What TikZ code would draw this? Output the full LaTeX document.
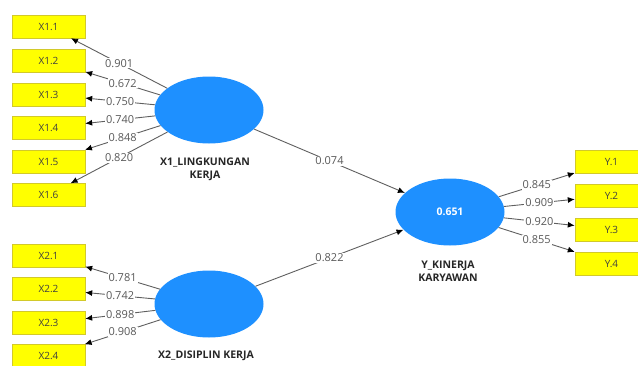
\documentclass[tikz,border=0pt]{standalone}
\usepackage{fontspec}
\setmainfont{Open Sans}
\usepackage{tikz}
\usetikzlibrary{shapes.geometric,arrows.meta}
\definecolor{lvblue}{RGB}{30,144,255}
\definecolor{mvyellow}{RGB}{255,255,0}
\definecolor{linegray}{RGB}{95,95,95}

\tikzset{
  latent/.style={ellipse, fill=lvblue, minimum width=109pt, minimum height=67pt, inner sep=0pt},
  indicator/.style={rectangle, fill=mvyellow, draw=yellow!80!black, line width=0.4pt, minimum width=73pt, minimum height=23pt, inner sep=0pt, font=\fontsize{10}{10}\selectfont, text=black!75},
  coef/.style={fill=white, inner sep=1pt, font=\fontsize{11}{11}\selectfont, text=black!65},
  lvtitle/.style={font=\fontsize{10.5}{13.5}\selectfont\bfseries, align=center, text=black!85},
  loadline/.style={draw=linegray, line width=0.9pt, -{Latex[length=7pt,width=6pt,color=black]}}
}

\begin{document}
\begin{tikzpicture}[x=1pt,y=1pt]
\useasboundingbox (0,0) rectangle (638,-365);
% constructs
\node[latent] (X1) at (209,-110) {};
\node[latent] (X2) at (209,-304) {};
\node[latent, text=white, font=\fontsize{10.5}{11}\selectfont\bfseries] (Y) at (450,-212) {0.651};
\node[lvtitle] (X1t) at (205,-169.5) {X1\_LINGKUNGAN\\KERJA};
\node[lvtitle] (X2t) at (206,-356) {X2\_DISIPLIN KERJA};
\node[lvtitle] (Yt) at (448,-271) {Y\_KINERJA\\KARYAWAN};
% indicators X1
\node[indicator] (X11) at (48.5,-26.5) {X1.1};
\node[indicator] (X12) at (48.5,-60.5) {X1.2};
\node[indicator] (X13) at (48.5,-94.5) {X1.3};
\node[indicator] (X14) at (48.5,-127.5) {X1.4};
\node[indicator] (X15) at (48.5,-161.5) {X1.5};
\node[indicator] (X16) at (48.5,-195) {X1.6};
% indicators X2
\node[indicator] (X21) at (48.5,-255.5) {X2.1};
\node[indicator] (X22) at (48.5,-289) {X2.2};
\node[indicator] (X23) at (48.5,-323) {X2.3};
\node[indicator] (X24) at (48.5,-356) {X2.4};
% indicators Y
\node[indicator] (Y1) at (611.5,-161.5) {Y.1};
\node[indicator] (Y2) at (611.5,-195.5) {Y.2};
\node[indicator] (Y3) at (611.5,-229.5) {Y.3};
\node[indicator] (Y4) at (611.5,-263.5) {Y.4};
% outer loadings
\draw[loadline] (X1) -- (X11) node[coef, midway] {0.901};
\draw[loadline] (X1) -- (X12) node[coef, midway] {0.672};
\draw[loadline] (X1) -- (X13) node[coef, midway] {0.750};
\draw[loadline] (X1) -- (X14) node[coef, midway] {0.740};
\draw[loadline] (X1) -- (X15) node[coef, midway] {0.848};
\draw[loadline] (X1) -- (X16) node[coef, midway] {0.820};
\draw[loadline] (X2) -- (X21) node[coef, midway] {0.781};
\draw[loadline] (X2) -- (X22) node[coef, midway] {0.742};
\draw[loadline] (X2) -- (X23) node[coef, midway] {0.898};
\draw[loadline] (X2) -- (X24) node[coef, midway] {0.908};
\draw[loadline] (Y) -- (Y1) node[coef, midway] {0.845};
\draw[loadline] (Y) -- (Y2) node[coef, midway] {0.909};
\draw[loadline] (Y) -- (Y3) node[coef, midway] {0.920};
\draw[loadline] (Y) -- (Y4) node[coef, midway] {0.855};
% path coefficients
\draw[loadline] (X1) -- (Y) node[coef, midway] {0.074};
\draw[loadline] (X2) -- (Y) node[coef, midway] {0.822};
\end{tikzpicture}
\end{document}
